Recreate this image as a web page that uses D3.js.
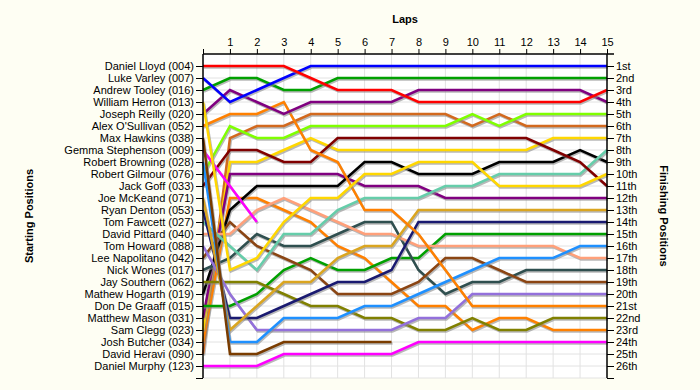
<!DOCTYPE html>
<html>
<head>
<meta charset="utf-8">
<script src="https://cdn.jsdelivr.net/npm/d3@7"></script>
<style>
  body { margin: 0; background: #fefef3; }
  svg { display: block; font-family: Arial, "Liberation Sans", sans-serif; }
</style>
</head>
<body>
<svg id="chart" width="700" height="390"></svg>
<script>
var laps = [0, 1, 2, 3, 4, 5, 6, 7, 8, 9, 10, 11, 12, 13, 14, 15];

var startNames = [
    "Daniel Lloyd (004)", "Luke Varley (007)", "Andrew Tooley (016)", "William Herron (013)",
    "Joseph Reilly (020)", "Alex O'Sullivan (052)", "Max Hawkins (038)", "Gemma Stephenson (009)",
    "Robert Browning (028)", "Robert Gilmour (076)", "Jack Goff (033)", "Joe McKeand (071)",
    "Ryan Denton (053)", "Tom Fawcett (027)", "David Pittard (040)", "Tom Howard (088)",
    "Lee Napolitano (042)", "Nick Wones (017)", "Jay Southern (062)", "Mathew Hogarth (019)",
    "Don De Graaff (015)", "Matthew Mason (031)", "Sam Clegg (023)", "Josh Butcher (034)",
    "David Heravi (090)", "Daniel Murphy (123)"
];

var finishLabels = [
    "1st", "2nd", "3rd", "4th", "5th", "6th", "7th", "8th", "9th", "10th", "11th", "12th", "13th",
    "14th", "15th", "16th", "17th", "18th", "19th", "20th", "21st", "22nd", "23rd", "24th", "25th", "26th"
];

// position of each driver at the end of each lap (lap 0 = grid), same order as startNames
var lapPositions = [
    [1, 1, 1, 1, 2, 3, 3, 3, 4, 4, 4, 4, 4, 4, 4, 3],
    [2, 4, 3, 2, 1, 1, 1, 1, 1, 1, 1, 1, 1, 1, 1, 1],
    [3, 2, 2, 3, 3, 2, 2, 2, 2, 2, 2, 2, 2, 2, 2, 2],
    [4, 18, 17, 14, 12, 12, 10, 10, 9, 9, 9, 11, 11, 11, 11, 10],
    [5, 3, 4, 5, 4, 4, 4, 4, 3, 3, 3, 3, 3, 3, 3, 4],
    [6, 5, 5, 4, 8, 9, 13, 13, 15, 18, 21, 21, 21, 21, 21, 21],
    [7, 25, 25, 24, 24, 24, 24, 24],
    [8, 11, 14],
    [9, 24, 24, 22, 22, 22, 21, 21, 20, 19, 18, 17, 17, 17, 16, 16],
    [10, 6, 7, 7, 6, 6, 6, 6, 6, 6, 5, 6, 5, 5, 5, 5],
    [11, 8, 8, 9, 9, 7, 7, 7, 7, 7, 7, 7, 7, 8, 9, 11],
    [12, 23, 21, 19, 19, 17, 16, 16, 13, 13, 13, 13, 13, 13, 13, 13],
    [13, 22, 22, 21, 20, 19, 19, 18, 14, 14, 14, 14, 14, 14, 14, 14],
    [14, 16, 18, 15, 15, 13, 12, 12, 12, 11, 11, 10, 10, 10, 10, 8],
    [15, 15, 13, 12, 13, 14, 15, 15, 16, 16, 16, 16, 16, 16, 17, 17],
    [16, 20, 23, 23, 23, 23, 23, 23, 22, 22, 20, 20, 20, 20, 20, 20],
    [17, 14, 16, 17, 18, 20, 20, 20, 19, 17, 17, 18, 19, 19, 19, 19],
    [18, 17, 15, 16, 16, 15, 14, 14, 18, 20, 19, 19, 18, 18, 18, 18],
    [19, 19, 19, 20, 21, 21, 22, 22, 23, 23, 22, 23, 23, 22, 22, 22],
    [20, 13, 11, 11, 11, 11, 9, 9, 10, 10, 10, 9, 9, 9, 8, 9],
    [21, 21, 20, 18, 17, 18, 18, 17, 17, 15, 15, 15, 15, 15, 15, 15],
    [22, 10, 10, 10, 10, 10, 11, 11, 11, 12, 12, 12, 12, 12, 12, 12],
    [23, 9, 9, 8, 7, 8, 8, 8, 8, 8, 8, 8, 8, 7, 7, 7],
    [24, 12, 12, 13, 14, 16, 17, 19, 21, 21, 23, 22, 22, 23, 23, 23],
    [25, 7, 6, 6, 5, 5, 5, 5, 5, 5, 6, 5, 6, 6, 6, 6],
    [26, 26, 26, 25, 25, 25, 25, 25, 24, 24, 24, 24, 24, 24, 24, 24]
];

var lineColors = [
    "#ff0000", "#0000ff", "#00a000", "#ffd700", "#800080", "#ff8000", "#7a3c00", "#ff00ff",
    "#1e90ff", "#7fff00", "#800000", "#daa520", "#191970", "#66cdaa", "#ffa07a", "#9370db",
    "#8b4513", "#2f4f4f", "#808000", "#000000", "#00a000", "#800080", "#ffd700", "#ff8000",
    "#d2691e", "#ff00ff"
];

var svg = d3.select("#chart");

var x = d3.scaleLinear().domain([0, 15]).range([203, 607]);
var y = d3.scaleLinear().domain([0, 27]).range([54, 378]);
var positions = d3.range(1, 28);

// plot background + grid
svg.append("rect")
    .attr("x", x(0)).attr("y", y(0))
    .attr("width", x(15) - x(0)).attr("height", y(27) - y(0))
    .attr("fill", "#ffffff");

svg.append("g").selectAll("line").data(laps.slice(1, 15))
    .enter().append("line")
    .attr("x1", function (d) { return x(d); })
    .attr("x2", function (d) { return x(d); })
    .attr("y1", y(0)).attr("y2", y(27))
    .style("stroke", "#e2e2e2");

svg.append("g").selectAll("line").data(positions)
    .enter().append("line")
    .attr("x1", x(0)).attr("x2", x(15))
    .attr("y1", function (d) { return y(d); })
    .attr("y2", function (d) { return y(d); })
    .style("stroke", "#e2e2e2");

// driver lines
var line = d3.line()
    .x(function (d, i) { return x(laps[i]); })
    .y(function (d) { return y(d); });

var lines = svg.append("g");
for (var i = lapPositions.length - 1; i >= 0; i--) {
    lines.append("path")
        .attr("d", line(lapPositions[i]))
        .attr("transform", "translate(1,1.5)")
        .style("fill", "none")
        .style("stroke", "#8a8a8a")
        .style("stroke-opacity", 0.6)
        .style("stroke-width", 2.5);
    lines.append("path")
        .attr("d", line(lapPositions[i]))
        .style("fill", "none")
        .style("stroke", lineColors[i])
        .style("stroke-width", 2.5);
}

// axes
var topAxis = d3.axisTop(x)
    .tickValues(laps)
    .tickFormat(function (d) { return d === 0 ? "" : d; })
    .tickSize(5).tickSizeOuter(0).tickPadding(3);

var leftAxis = d3.axisLeft(y)
    .tickValues(positions)
    .tickFormat(function (d) { return startNames[d - 1] || ""; })
    .tickSize(7).tickSizeOuter(0).tickPadding(2);

var rightAxis = d3.axisRight(y)
    .tickValues(positions)
    .tickFormat(function (d) { return finishLabels[d - 1] || ""; })
    .tickSize(7).tickSizeOuter(0).tickPadding(2);

function styleAxis(g) {
    g.select(".domain").remove();
    g.selectAll("line").style("stroke", "#000");
    g.selectAll("text").style("font-size", "11px").style("fill", "#000")
        .style("font-family", "Arial, 'Liberation Sans', sans-serif");
}

svg.append("g").attr("transform", "translate(0," + y(0) + ")").call(topAxis).call(styleAxis);
svg.append("g").attr("transform", "translate(" + x(0) + ",0)").call(leftAxis).call(styleAxis);
svg.append("g").attr("transform", "translate(" + x(15) + ",0)").call(rightAxis).call(styleAxis);

svg.append("line").attr("x1", x(0)).attr("x2", 614).attr("y1", y(0)).attr("y2", y(0))
    .style("stroke", "#000").style("stroke-width", 1.5);
svg.append("line").attr("x1", x(0)).attr("x2", x(0)).attr("y1", y(0)).attr("y2", y(27))
    .style("stroke", "#000").style("stroke-width", 1.5);
svg.append("line").attr("x1", x(15)).attr("x2", x(15)).attr("y1", y(0)).attr("y2", y(27))
    .style("stroke", "#000").style("stroke-width", 1.5);

// titles
svg.append("text")
    .attr("x", (x(0) + x(15)) / 2).attr("y", 23)
    .attr("text-anchor", "middle")
    .style("font-size", "11px").style("font-weight", "bold")
    .text("Laps");

svg.append("text")
    .attr("transform", "translate(33," + (y(0) + y(27)) / 2 + ") rotate(-90)")
    .attr("text-anchor", "middle")
    .style("font-size", "11px").style("font-weight", "bold")
    .text("Starting Positions");

svg.append("text")
    .attr("transform", "translate(660," + (y(0) + y(27)) / 2 + ") rotate(90)")
    .attr("text-anchor", "middle")
    .style("font-size", "11px").style("font-weight", "bold")
    .text("Finishing Positions");
</script>
</body>
</html>
